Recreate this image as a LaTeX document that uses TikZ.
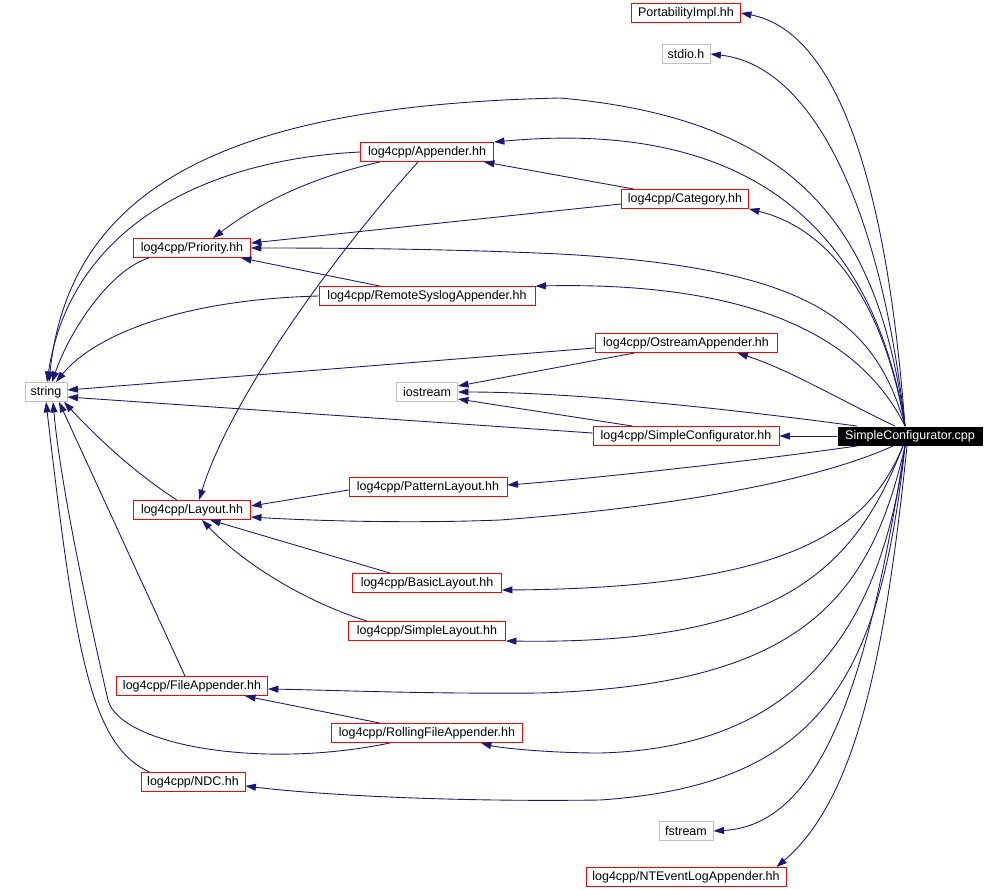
\documentclass[tikz,border=0pt]{standalone}
\usepackage{fontspec}
\setmainfont{Liberation Sans}
\usetikzlibrary{arrows.meta}
\definecolor{edgeblue}{HTML}{191970}
\definecolor{boxred}{HTML}{FF0000}
\definecolor{boxgray}{HTML}{BFBFBF}
\begin{document}
\begin{tikzpicture}[x=0.02cm, y=-0.02cm,
    box/.style={rectangle, inner sep=0pt, minimum height=0.38cm, line width=0.5pt,
        font=\fontsize{7.1}{8}\selectfont},
    filebox/.style={box, draw=boxred},
    sysbox/.style={box, draw=boxgray},
    rootbox/.style={box, fill=black, text=white},
    dep/.style={draw=edgeblue, line width=0.5pt, -{Triangle[length=0.21cm,width=0.14cm]}}]
    \useasboundingbox (0,0) rectangle (1006,889);

    % root file
    \node[rootbox, minimum width=2.90cm] (cpp) at (910,436) {SimpleConfigurator.cpp};

    % headers, top to bottom
    \node[filebox, minimum width=2.18cm] (port) at (686,13) {PortabilityImpl.hh};
    \node[sysbox, minimum width=0.96cm] (stdio) at (686,54) {stdio.h};
    \node[filebox, minimum width=2.66cm] (app) at (427,152) {log4cpp/Appender.hh};
    \node[filebox, minimum width=2.54cm] (cat) at (685,199) {log4cpp/Category.hh};
    \node[filebox, minimum width=2.34cm] (prio) at (192,248) {log4cpp/Priority.hh};
    \node[filebox, minimum width=4.32cm] (remote) at (427,296) {log4cpp/RemoteSyslogAppender.hh};
    \node[filebox, minimum width=3.64cm] (ostream) at (686,343) {log4cpp/OstreamAppender.hh};
    \node[sysbox, minimum width=0.84cm] (string) at (46,392) {string};
    \node[sysbox, minimum width=1.22cm] (iostream) at (427,392) {iostream};
    \node[filebox, minimum width=3.72cm] (sch) at (686,436) {log4cpp/SimpleConfigurator.hh};
    \node[filebox, minimum width=3.16cm] (pattern) at (428,487) {log4cpp/PatternLayout.hh};
    \node[filebox, minimum width=2.34cm] (layout) at (192,510) {log4cpp/Layout.hh};
    \node[filebox, minimum width=2.98cm] (basic) at (427,583) {log4cpp/BasicLayout.hh};
    \node[filebox, minimum width=3.14cm] (simple) at (427,631) {log4cpp/SimpleLayout.hh};
    \node[filebox, minimum width=3.02cm] (fileapp) at (192,686) {log4cpp/FileAppender.hh};
    \node[filebox, minimum width=3.82cm] (rolling) at (427,733) {log4cpp/RollingFileAppender.hh};
    \node[filebox, minimum width=2.08cm] (ndc) at (193,782) {log4cpp/NDC.hh};
    \node[sysbox, minimum width=1.08cm] (fstream) at (686,831) {fstream};
    \node[filebox, minimum width=4.00cm] (ntevent) at (686,877) {log4cpp/NTEventLogAppender.hh};

    % edges out of SimpleConfigurator.cpp, upper half
    \draw[dep] ([xshift=-0.1cm]cpp.north) .. controls (885,160) and (830,30) .. (port.east);
    \draw[dep] ([xshift=-0.1cm]cpp.north) .. controls (880,200) and (810,65) .. (stdio.east);
    \draw[dep] ([xshift=-0.1cm]cpp.north) .. controls (880,240) and (810,120) .. (560,98)
        .. controls (240,105) and (70,180) .. ([xshift=0.06cm]string.north);
    \draw[dep] ([xshift=-0.1cm]cpp.north) .. controls (870,210) and (730,120) .. (app.north east);
    \draw[dep] ([xshift=-0.1cm]cpp.north) .. controls (885,310) and (835,230) .. (cat.south east);
    \draw[dep] ([xshift=-0.1cm]cpp.north) .. controls (875,320) and (810,268) .. (560,254)
        .. controls (450,249) and (350,248) .. (prio.east);
    \draw[dep] ([xshift=-0.1cm]cpp.north) .. controls (855,325) and (730,282) .. (remote.north east);
    \draw[dep] ([xshift=-0.3cm]cpp.north) .. controls (840,400) and (790,370) .. ([xshift=-0.8cm]ostream.south east);
    \draw[dep] ([xshift=0.4cm]cpp.north west) .. controls (700,405) and (560,392) .. (iostream.east);
    \draw[dep] (cpp.west) -- (sch.east);

    % edges out of SimpleConfigurator.cpp, lower half
    \draw[dep] ([xshift=0.4cm]cpp.south west) .. controls (760,460) and (600,478) .. ([yshift=0.04cm]pattern.east);
    \draw[dep] ([xshift=-0.34cm]cpp.south) .. controls (830,475) and (700,505) .. (500,520)
        .. controls (400,524) and (300,520) .. ([yshift=-0.14cm]layout.east);
    \draw[dep] ([xshift=-0.14cm]cpp.south) .. controls (870,525) and (800,588) .. ([yshift=-0.14cm]basic.east);
    \draw[dep] ([xshift=-0.14cm]cpp.south) .. controls (855,570) and (780,645) .. (simple.south east);
    \draw[dep] ([xshift=-0.1cm]cpp.south) .. controls (870,600) and (800,685) .. (540,693)
        .. controls (420,694) and (330,690) .. ([yshift=-0.06cm]fileapp.east);
    \draw[dep] ([xshift=-0.1cm]cpp.south) .. controls (880,640) and (790,748) .. (600,753)
        .. controls (550,753) and (500,748) .. ([xshift=-0.84cm]rolling.south east);
    \draw[dep] ([xshift=-0.1cm]cpp.south) .. controls (880,680) and (820,785) .. (600,800)
        .. controls (450,802) and (320,795) .. ([yshift=-0.08cm]ndc.east);
    \draw[dep] ([xshift=-0.1cm]cpp.south) .. controls (870,670) and (825,825) .. (fstream.east);
    \draw[dep] ([xshift=-0.06cm]cpp.south) .. controls (885,660) and (855,800) .. ([xshift=-0.2cm]ntevent.north east);

    % edges between headers
    \draw[dep] (app.west) .. controls (200,160) and (70,230) .. ([xshift=0.02cm]string.north);
    \draw[dep] ([xshift=0.4cm]app.south west) .. controls (300,180) and (250,210) .. ([xshift=0.42cm]prio.north);
    \draw[dep] ([xshift=-0.18cm]app.south) .. controls (330,260) and (230,400) .. ([xshift=0.14cm]layout.north);
    \draw[dep] ([xshift=0.26cm]cat.north west) -- ([xshift=-0.2cm]app.south east);
    \draw[dep] ([yshift=-0.1cm]cat.west) -- ([yshift=0.1cm]prio.east);
    \draw[dep] ([xshift=-0.94cm]remote.north) -- ([xshift=-0.2cm]prio.south east);
    \draw[dep] (remote.west) .. controls (170,300) and (90,340) .. ([xshift=0.2cm]string.north);
    \draw[dep] ([xshift=0.32cm]prio.south west) .. controls (110,270) and (70,330) .. ([xshift=0.12cm]string.north);
    \draw[dep] ([yshift=-0.1cm]ostream.west) -- ([yshift=0.04cm]string.east);
    \draw[dep] ([xshift=0.8cm]ostream.south west) -- ([yshift=0.12cm]iostream.east);
    \draw[dep] ([xshift=0.8cm]sch.north west) -- ([yshift=-0.14cm]iostream.east);
    \draw[dep] ([yshift=0.06cm]sch.west) -- ([yshift=-0.1cm]string.east);
    \draw[dep] ([yshift=-0.06cm]pattern.west) -- ([yshift=0.08cm]layout.east);
    \draw[dep] ([xshift=-0.74cm]basic.north) -- ([xshift=0.36cm]layout.south);
    \draw[dep] ([xshift=-1.2cm]simple.north) .. controls (300,600) and (240,560) .. ([xshift=0.2cm]layout.south);
    \draw[dep] ([xshift=-0.3cm]layout.north) .. controls (130,470) and (90,430) .. ([xshift=0.36cm]string.south);
    \draw[dep] ([xshift=-0.14cm]fileapp.north) -- ([xshift=0.26cm]string.south);
    \draw[dep] ([xshift=-0.94cm]rolling.north) -- ([xshift=1.06cm]fileapp.south);
    \draw[dep] ([xshift=-0.74cm]rolling.south) .. controls (260,770) and (120,745) .. (108,700)
        .. controls (85,600) and (60,480) .. ([xshift=0.14cm]string.south);
    \draw[dep] ([xshift=0.18cm]ndc.north west) .. controls (90,745) and (75,650) .. (string.south);
\end{tikzpicture}
\end{document}
